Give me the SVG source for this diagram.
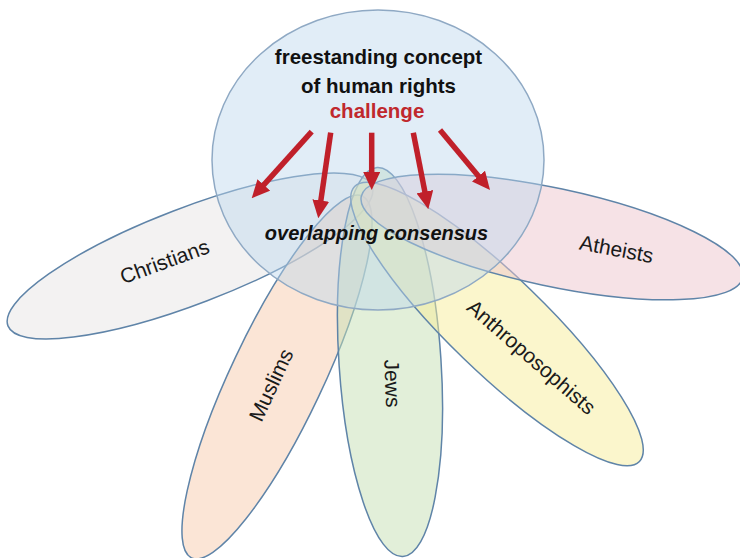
<svg xmlns="http://www.w3.org/2000/svg" width="740" height="558" viewBox="0 0 740 558">
<defs>
<style>
.petal{fill-opacity:0.5;stroke:#5f84a8;stroke-width:1.5}
.hub{fill:#bdd7ee;fill-opacity:0.45;stroke:#8fa9c4;stroke-width:1.5}
.lbl{font-family:"Liberation Sans",Arial,sans-serif;font-size:21px;fill:#1a1a1a;text-anchor:middle}
.title{font-family:"Liberation Sans",Arial,sans-serif;font-size:20.5px;font-weight:bold;fill:#111;text-anchor:middle}
.red{fill:#c0282d}
.oc{font-family:"Liberation Sans",Arial,sans-serif;font-size:20px;font-weight:bold;font-style:italic;fill:#111;text-anchor:middle}
.arrow{stroke:#c0202a;stroke-width:5.5;fill:none;marker-end:url(#head)}
</style>
<marker id="head" markerUnits="userSpaceOnUse" markerWidth="18" markerHeight="17" viewBox="0 0 18 17" refX="8" refY="8.5" orient="auto">
<path d="M0,0 L18,8.5 L0,17 z" fill="#c0202a"/>
</marker>
</defs>
<rect width="740" height="558" fill="#ffffff"/>
<g id="christians">
<ellipse class="petal" fill="#e7e6e6" cx="190" cy="256" rx="195" ry="48" transform="rotate(-21 190 256)"/>
<text class="lbl" x="164.5" y="261.5" dy="0.35em" transform="rotate(-20 164.5 261.5)">Christians</text>
</g>
<g id="muslims">
<ellipse class="petal" fill="#f8cbad" cx="277" cy="377" rx="200" ry="46" transform="rotate(-64.7 277 377)"/>
<text class="lbl" x="271" y="385" dy="0.35em" transform="rotate(-65 271 385)">Muslims</text>
</g>
<g id="jews">
<ellipse class="petal" fill="#c5e0b4" cx="390" cy="362" rx="195" ry="51" transform="rotate(86.2 390 362)"/>
<text class="lbl" x="392.5" y="383.5" dy="0.35em" transform="rotate(88 392.5 383.5)">Jews</text>
</g>
<g id="anthroposophists">
<ellipse class="petal" fill="#f7ed99" cx="497" cy="324" rx="198" ry="48" transform="rotate(44 497 324)"/>
<text class="lbl" x="531.5" y="357" dy="0.35em" transform="rotate(41 531.5 357)">Anthroposophists</text>
</g>
<g id="atheists">
<ellipse class="petal" fill="#eec5cd" cx="552" cy="237" rx="195" ry="49" transform="rotate(12 552 237)"/>
<text class="lbl" x="616.5" y="249" dy="0.35em" transform="rotate(10.6 616.5 249)">Atheists</text>
</g>
<g id="human-rights">
<ellipse class="hub" cx="378" cy="160" rx="166" ry="150"/>
<text class="title" x="378.5" y="64">freestanding concept</text>
<text class="title" x="378.5" y="93">of human rights</text>
<text class="title red" x="377" y="118">challenge</text>
<text class="oc" x="376.5" y="240">overlapping consensus</text>
</g>
<g id="connectors">
<line class="arrow" x1="311.7" y1="131.7" x2="258.4" y2="190.9"/>
<line class="arrow" x1="330.7" y1="132.7" x2="319.7" y2="208.4"/>
<line class="arrow" x1="371.7" y1="132.7" x2="371.7" y2="180"/>
<line class="arrow" x1="413.3" y1="132.7" x2="426.4" y2="199.5"/>
<line class="arrow" x1="440" y1="130" x2="483.6" y2="182.3"/>
</g>
</svg>
